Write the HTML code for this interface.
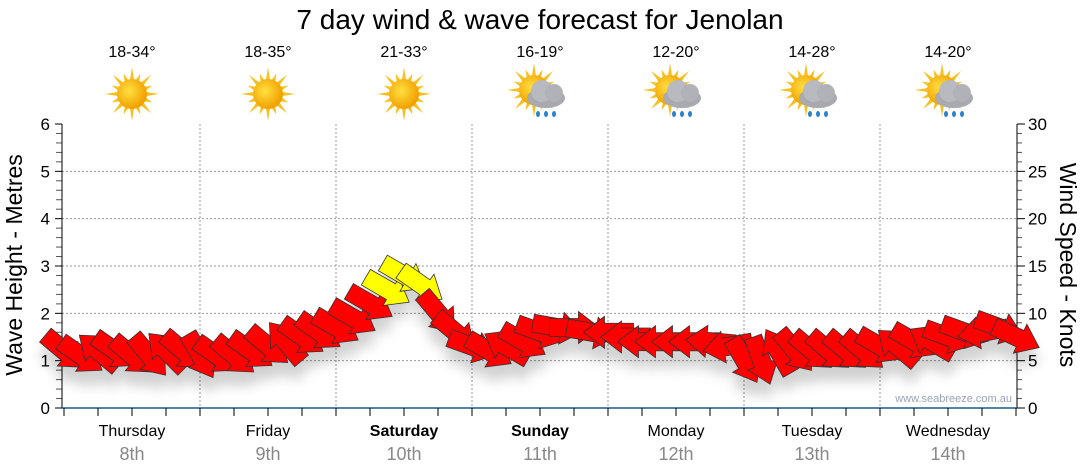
<!DOCTYPE html>
<html><head><meta charset="utf-8"><style>
body{margin:0;background:#fff;}
svg{display:block;font-family:"Liberation Sans",sans-serif;}
</style></head><body>
<svg id="chart" width="1080" height="475" viewBox="0 0 1080 475" xmlns="http://www.w3.org/2000/svg">
<defs>
<filter id="sh" x="-50%" y="-50%" width="200%" height="200%"><feDropShadow dx="0" dy="14" stdDeviation="6" flood-color="#000" flood-opacity="0.18"/></filter>
<radialGradient id="sun" cx="40%" cy="40%" r="60%"><stop offset="0" stop-color="#ffe040"/><stop offset="1" stop-color="#f0a000"/></radialGradient>
</defs>
<text x="540" y="29" text-anchor="middle" font-size="28">7 day wind &amp; wave forecast for Jenolan</text>
<g id="grid"></g>
<g id="axes"></g>
<g id="days"></g>
<g id="wx"></g>
<g id="arrows" filter="url(#sh)"></g>
<text transform="translate(22,265) rotate(-90)" text-anchor="middle" font-size="23">Wave Height - Metres</text>
<text transform="translate(1060,265) rotate(90)" text-anchor="middle" font-size="23">Wind Speed - Knots</text>
<text x="1012" y="402" text-anchor="end" font-size="11" fill="#9aa3b5">www.seabreeze.com.au</text>
</svg>
<script>
const dayNames=["Thursday","Friday","Saturday","Sunday","Monday","Tuesday","Wednesday"];
const dayDates=["8th","9th","10th","11th","12th","13th","14th"];
const temps=["18-34°","18-35°","21-33°","16-19°","12-20°","14-28°","14-20°"];
const wxType=["sun","sun","sun","rain","rain","rain","rain"];
const waveTicks=[0,1,2,3,4,5,6];
const windTicks=[0,5,10,15,20,25,30];
const windSpeed=[6,5.5,6,6,5.5,5.5,6,6,
 5.5,5.5,5.5,6,6.5,7,7.5,8,
 8.5,9.5,11,12.5,14,13,10,8,
 6.5,6,6.5,7,8,8.5,8.5,8,
 8,7.5,7,7,7,7,7,6.5,
 5,5,6,6,6,6,6,6,
 6.5,6.5,7,7,7.5,8,8,8.5,7.5];
const windDir=[40,35,-140,35,40,50,-135,40,
 60,35,40,35,40,-130,35,35,
 30,30,30,30,30,35,50,40,
 20,30,-150,30,20,10,0,10,
 180,180,180,180,180,180,185,170,
 60,70,-120,50,40,40,40,40,
 30,-140,30,-150,20,20,170,20,25];
const NS="http://www.w3.org/2000/svg";
const X0=64,DW=136,YB=408,YT=124,R=1017;
const yWave=v=>YB-(YB-YT)*v/6, yWind=v=>YB-(YB-YT)*v/30, xT=i=>X0+i*DW/8+DW/16-8;
function mk(p,t,a){const e=document.createElementNS(NS,t);for(const k in a)e.setAttribute(k,a[k]);p.appendChild(e);return e;}
const g=document.getElementById('grid'),ax=document.getElementById('axes'),dy=document.getElementById('days'),wx=document.getElementById('wx'),ar=document.getElementById('arrows');
waveTicks.forEach(v=>{if(v>0&&v<6){const l=mk(g,'line',{x1:62,x2:R,y1:yWave(v),y2:yWave(v),stroke:'#999','stroke-dasharray':'2,2'});

}
const t=mk(ax,'text',{x:50,y:yWave(v)+6,'text-anchor':'end','font-size':17});t.textContent=v;


for(let m=1;m<5&&v<6;m++){mk(ax,'line',{x1:56,x2:62,y1:yWave(v+m*0.2),y2:yWave(v+m*0.2),stroke:'#555'});}
mk(ax,'line',{x1:55,x2:62,y1:yWave(v),y2:yWave(v),stroke:'#000'});});
windTicks.forEach(v=>{const t=mk(ax,'text',{x:1028,y:yWind(v)+6,'font-size':17});t.textContent=v;


for(let m=0;m<5&&(v<30||m==0);m++){mk(ax,'line',{x1:R,x2:R+(m?5:8),y1:yWind(v+m),y2:yWind(v+m),stroke:m?'#555':'#000'});}});
mk(ax,'line',{x1:62,x2:62,y1:YT,y2:YB,stroke:'#000'});
mk(ax,'line',{x1:R,x2:R,y1:YT,y2:YB,stroke:'#000'});
mk(ax,'line',{x1:62,x2:R,y1:YB,y2:YB,stroke:'#1a5a8a','stroke-width':1.5});
for(let i=0;i<=28;i++){const x=X0+i*DW/4;if(x<=R)mk(ax,'line',{x1:x,x2:x,y1:YB,y2:YB+8,stroke:'#000'});}
for(let d=0;d<7;d++){const cx=X0+d*DW+DW/2;
if(d>0){const l=mk(g,'line',{x1:X0+d*DW,x2:X0+d*DW,y1:YT,y2:YB,stroke:'#999','stroke-dasharray':'2,2'});

}
const bold=d==2||d==3;
const n=mk(dy,'text',{x:cx,y:436,'text-anchor':'middle','font-size':16,'font-weight':bold?'bold':'normal'});n.textContent=dayNames[d];


const dt=mk(dy,'text',{x:cx,y:460,'text-anchor':'middle','font-size':18,fill:'#888'});dt.textContent=dayDates[d];


const tp=mk(wx,'text',{x:cx,y:57,'text-anchor':'middle','font-size':16});tp.textContent=temps[d];


const ic=mk(wx,'g',{transform:`translate(${cx},94)`});


const sx=wxType[d]=='sun'?0:-6,sy=wxType[d]=='sun'?0:-4;
for(let k=0;k<16;k++){const a=k*Math.PI/8,L=k%2?22:27;mk(ic,'polygon',{points:`${sx+Math.cos(a)*L},${sy+Math.sin(a)*L} ${sx+Math.cos(a+0.15)*14},${sy+Math.sin(a+0.15)*14} ${sx+Math.cos(a-0.15)*14},${sy+Math.sin(a-0.15)*14}`,fill:'#f5c020'});}
mk(ic,'circle',{cx:sx,cy:sy,r:15,fill:'url(#sun)'});
if(wxType[d]=='rain'){mk(ic,'ellipse',{cx:6,cy:4,rx:19,ry:10,fill:'#a8aab0'});mk(ic,'circle',{cx:2,cy:-3,r:11,fill:'#b8bac0'});mk(ic,'circle',{cx:14,cy:-1,r:9,fill:'#b0b2b8'});
for(let k=0;k<3;k++)mk(ic,'ellipse',{cx:-2+k*8,cy:20,rx:2,ry:3,fill:'#2a80d0'});}
}
windSpeed.forEach((v,i)=>{const x=xT(i),y=yWind(v);
const p=mk(ar,'polygon',{points:'-25,-9 4,-9 4,-16 25,0 4,16 4,9 -25,9',transform:`translate(${x},${y}) rotate(${windDir[i]})`,fill:v>=12?'#ffff00':'#ff0000',stroke:'#333','stroke-width':0.8});

});
</script>
</body></html>
